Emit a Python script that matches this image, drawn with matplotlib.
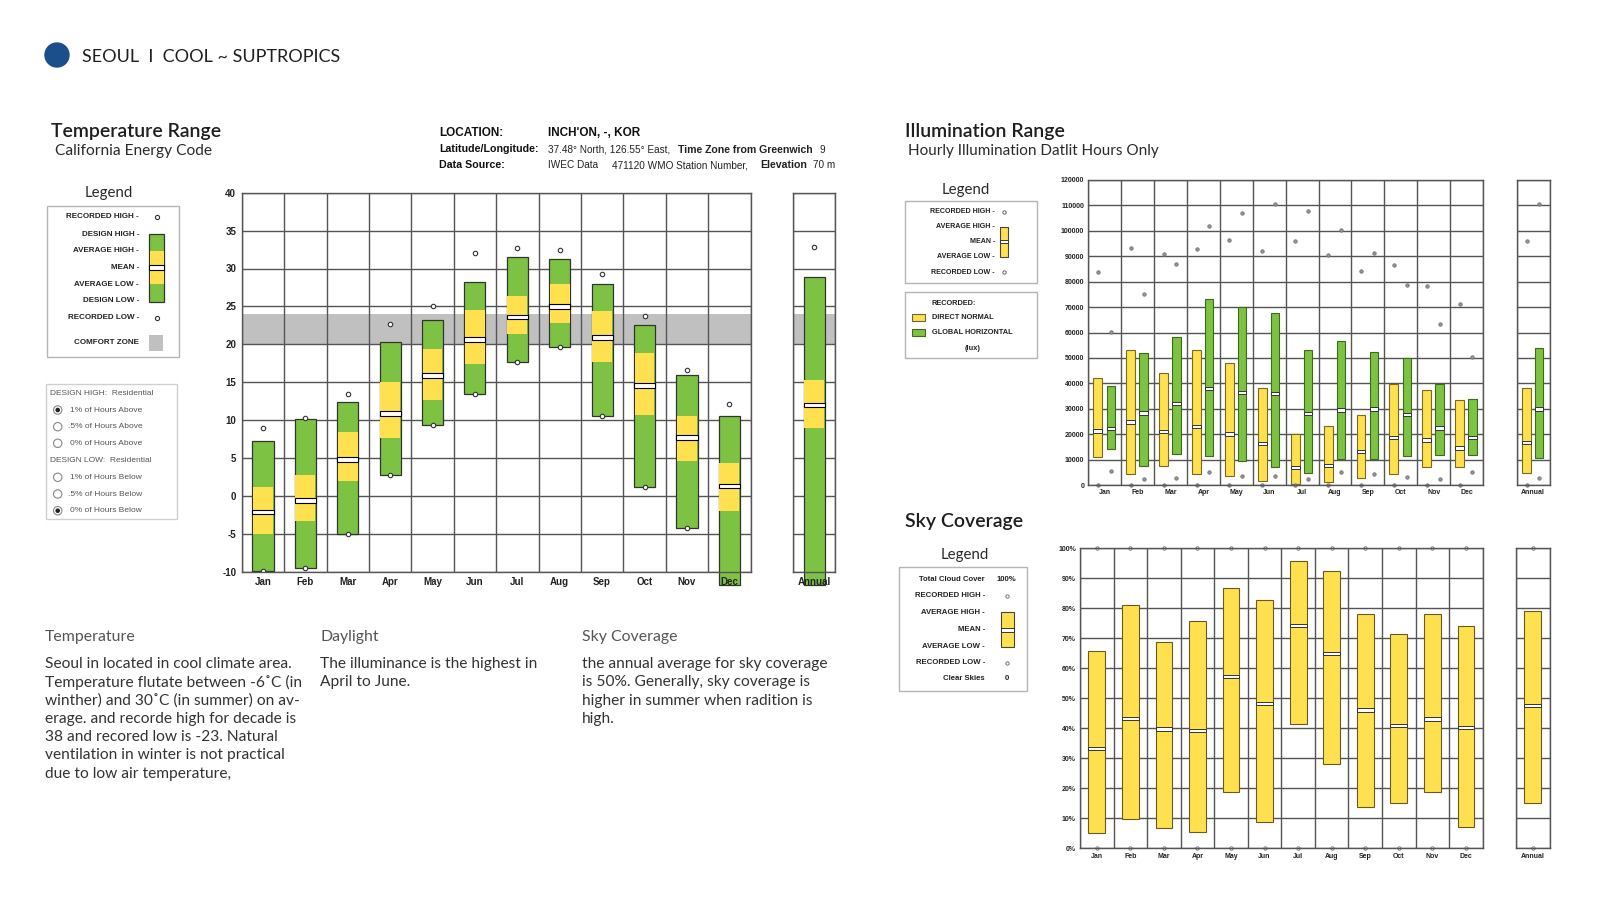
import numpy as np
import matplotlib.pyplot as plt
from matplotlib.patches import Rectangle, Circle

W, H = 1600, 900

months = ['Jan', 'Feb', 'Mar', 'Apr', 'May', 'Jun', 'Jul', 'Aug', 'Sep', 'Oct', 'Nov', 'Dec']

# temperature range (deg C), monthly + annual
temp_rec_high = [9.0, 10.3, 13.5, 22.7, 25.0, 32.0, 32.7, 32.5, 29.3, 23.7, 16.6, 12.1]
temp_design_high = [7.2, 10.1, 12.4, 20.3, 23.2, 28.2, 31.5, 31.2, 27.9, 22.5, 16.0, 10.6]
temp_avg_high = [1.2, 2.8, 8.4, 15.0, 19.4, 24.5, 26.4, 27.9, 24.4, 18.8, 10.6, 4.4]
temp_mean = [-2.1, -0.6, 4.8, 10.9, 15.9, 20.6, 23.6, 25.0, 20.9, 14.6, 7.7, 1.3]
temp_avg_low = [-5.0, -3.3, 1.9, 7.6, 12.6, 17.4, 21.4, 22.8, 17.6, 10.7, 4.6, -2.0]
temp_design_low = [-9.9, -9.5, -5.0, 2.8, 9.3, 13.5, 17.7, 19.6, 10.5, 1.2, -4.3, -11.8]
temp_rec_low = [-9.9, -9.5, -5.0, 2.8, 9.3, 13.5, 17.7, 19.6, 10.5, 1.2, -4.3, -23.0]
temp_annual = {'rec_high': 32.8, 'design_high': 28.9, 'avg_high': 15.3, 'mean': 12.0,
               'avg_low': 8.9, 'design_low': -11.8, 'rec_low': -23.0}
comfort_zone = (20, 24)
temp_yticks = [-10, -5, 0, 5, 10, 15, 20, 25, 30, 35, 40]

# illumination (lux): direct normal and global horizontal
dn_rec_high = [83800, 93200, 90700, 92700, 96300, 92200, 96000, 90500, 84100, 86700, 78200, 71100]
dn_avg_high = [42200, 53000, 44000, 53000, 48100, 38000, 19900, 23100, 27500, 39700, 37200, 33600]
dn_mean = [21200, 24800, 21000, 23000, 20100, 16400, 6800, 7700, 13100, 18600, 17700, 14600]
dn_avg_low = [11100, 4200, 7600, 4300, 3500, 1700, 500, 1000, 2900, 4200, 7200, 7000]
dn_rec_low = [0, 0, 0, 0, 0, 0, 0, 0, 0, 0, 0, 0]
gh_rec_high = [60200, 75100, 86800, 101900, 106900, 110400, 107800, 100200, 91100, 78600, 63500, 50400]
gh_avg_high = [39100, 52100, 58100, 73000, 70000, 67500, 53000, 56500, 52200, 49800, 39900, 34000]
gh_mean = [22200, 28300, 32100, 38000, 36500, 36100, 28100, 29500, 29900, 27800, 22400, 18800]
gh_avg_low = [14000, 7600, 12100, 11500, 9400, 7000, 4600, 10100, 10200, 11400, 11800, 11800]
gh_rec_low = [5500, 2200, 2600, 5100, 3500, 3500, 2500, 5000, 4200, 3300, 2400, 5200]
dn_annual = [96100, 38300, 16700, 4600, 0]      # rec high, avg high, mean, avg low, rec low
gh_annual = [110700, 53800, 29900, 10500, 2600]
illum_yticks = list(range(0, 120001, 10000))

# sky coverage (%)
sky_rec_high = [100] * 12
sky_avg_high = [65.7, 81.0, 68.6, 75.9, 86.6, 82.7, 95.6, 92.4, 78.0, 71.4, 78.2, 74.2]
sky_mean = [33.2, 43.2, 39.8, 39.2, 57.2, 48.2, 74.2, 65.0, 46.1, 40.9, 43.1, 40.3]
sky_avg_low = [5.2, 9.8, 6.9, 5.3, 18.8, 8.8, 41.4, 28.0, 13.9, 15.0, 18.6, 7.0]
sky_rec_low = [0] * 12
sky_annual = [100, 79.1, 47.6, 15.2, 0]
sky_yticks = list(range(0, 101, 10))

header = 'SEOUL  I  COOL ~ SUPTROPICS'
para_temp = ['Seoul in located in cool climate area.',
             'Temperature flutate between -6\u02daC (in',
             'winther) and 30\u02daC (in summer) on av-',
             'erage. and recorde high for decade is',
             '38 and recored low is -23. Natural',
             'ventilation in winter is not practical',
             'due to low air temperature,']
para_day = ['The illuminance is the highest in', 'April to June.']
para_sky = ['the annual average for sky coverage', 'is 50%. Generally, sky coverage is',
            'higher in summer when radition is', 'high.']

GREEN = '#7dc242'
YELLOW = '#ffe14f'
GRID = '#555555'
EDGE = '#333333'
TFONT = ['Lato', 'DejaVu Sans']
plt.rcParams['font.family'] = ['Liberation Sans', 'DejaVu Sans']


def px_axes(fig, x0, y0, x1, y1):
    return fig.add_axes([x0 / W, 1 - y1 / H, (x1 - x0) / W, (y1 - y0) / H])


def grid_axes(ax, ncols, yticks, ylabels, xlabels, fs, xpad, ypad):
    ax.set_xlim(0.5, ncols + 0.5)
    ax.set_ylim(yticks[0], yticks[-1])
    ax.set_xticks(np.arange(1, ncols + 1))
    ax.set_yticks(yticks)
    ax.set_xticklabels(xlabels, fontsize=fs, fontweight='bold', color='#222222')
    if ylabels is None:
        ax.set_yticklabels([])
    else:
        ax.set_yticklabels(ylabels, fontsize=fs, fontweight='bold', color='#222222')
    ax.tick_params(which='both', length=0)
    ax.tick_params(axis='x', pad=xpad)
    ax.tick_params(axis='y', pad=ypad)
    # grid drawn as plain lines, axis kept on top so tick labels sit over the bars
    ax.set_axisbelow(False)
    for v in yticks:
        ax.axhline(v, color=GRID, lw=1.0, zorder=1)
    for v in np.arange(0.5, ncols + 1, 1):
        ax.axvline(v, color=GRID, lw=1.0, zorder=1)
    for s in ax.spines.values():
        s.set_color(GRID)
        s.set_linewidth(1.0)


def draw_temp(ax, x, dhigh, ahigh, mean, alow, dlow, rhigh, rlow):
    x = np.atleast_1d(x)
    dhigh, ahigh, mean, alow, dlow = [np.atleast_1d(v) for v in (dhigh, ahigh, mean, alow, dlow)]
    ax.bar(x, dhigh - dlow, bottom=dlow, width=0.5, color=GREEN, edgecolor=EDGE,
           lw=0.9, zorder=2, clip_on=False)
    ax.bar(x, ahigh - alow, bottom=alow, width=0.47, color=YELLOW, lw=0, zorder=2.1)
    ax.bar(x, 0.6, bottom=mean - 0.3, width=0.5, color='white', edgecolor='black',
           lw=0.8, zorder=2.2)
    ax.plot(x, np.atleast_1d(rhigh), 'o', ms=3.2, mfc='white', mec='#333333', mew=0.8, zorder=2.3)
    ax.plot(x, np.atleast_1d(rlow), 'o', ms=3.2, mfc='white', mec='#333333', mew=0.8, zorder=2.3)


def draw_range(ax, x, ahigh, mean, alow, rhigh, rlow, color, edge, width, band,
               dot_face, dot_edge, ms):
    x = np.atleast_1d(x)
    ahigh, mean, alow = [np.atleast_1d(v).astype(float) for v in (ahigh, mean, alow)]
    ax.bar(x, ahigh - alow, bottom=alow, width=width, color=color, edgecolor=edge,
           lw=0.8, zorder=2)
    ax.bar(x, band, bottom=mean - band / 2, width=width, color='white', edgecolor='#333333',
           lw=0.7, zorder=2.1)
    ax.plot(x, np.atleast_1d(rhigh), 'o', ms=ms, mfc=dot_face, mec=dot_edge, mew=0.7,
            zorder=2.3, clip_on=False)
    ax.plot(x, np.atleast_1d(rlow), 'o', ms=ms, mfc=dot_face, mec=dot_edge, mew=0.7,
            zorder=2.3, clip_on=False)


fig = plt.figure(figsize=(16, 9), dpi=100)
fig.patch.set_facecolor('white')

bg = fig.add_axes([0, 0, 1, 1])
bg.set_xlim(0, W)
bg.set_ylim(H, 0)
bg.axis('off')

# header
bg.add_patch(Circle((57, 55), 12, color='#1b4f8c'))
bg.text(82, 56.5, header, fontsize=13, family=TFONT, color='#1e1e1e', va='center')

# ---------------- temperature ----------------
bg.text(51, 132, 'Temperature Range', fontsize=14, family=TFONT, fontweight='semibold',
        color='#1e1e1e', va='center')
bg.text(55, 151, 'California Energy Code', fontsize=11.2, family=TFONT, color='#2a2a2a', va='center')
bg.text(109, 193, 'Legend', fontsize=10.8, family=TFONT, color='#2a2a2a', ha='center', va='center')

bg.add_patch(Rectangle((46.7, 205.7), 132.3, 151, fc='white', ec='#b5b5b5', lw=1))
leg_items = ['RECORDED HIGH -', 'DESIGN HIGH -', 'AVERAGE HIGH -', 'MEAN -',
             'AVERAGE LOW -', 'DESIGN LOW -', 'RECORDED LOW -', 'COMFORT ZONE']
leg_y = [217, 234, 250.7, 267.3, 284, 301, 317.7, 342.3]
for t, y in zip(leg_items, leg_y):
    bg.text(139, y, t, fontsize=5.8, fontweight='bold', color='#222222', ha='right', va='center')
bg.add_patch(Rectangle((149.3, 234), 15, 67.7, fc=GREEN, ec=EDGE, lw=0.9))
bg.add_patch(Rectangle((149.8, 250.7), 14, 33.3, fc=YELLOW, lw=0))
bg.add_patch(Rectangle((149.3, 265.2), 15, 4.4, fc='white', ec='black', lw=0.8))
bg.plot([156.7, 156.7], [217, 317.7], 'o', ms=3, mfc='white', mec='#333333', mew=0.8, ls='none')
bg.add_patch(Rectangle((149.3, 335), 14, 15.7, fc='#c0c0c0', lw=0))

bg.add_patch(Rectangle((45.7, 384.3), 131.6, 134.7, fc='white', ec='#cfcfcf', lw=1))
radio_rows = [('DESIGN HIGH:  Residential', None, 393.3),
              ('1% of Hours Above', True, 410), ('.5% of Hours Above', False, 426.7),
              ('0% of Hours Above', False, 443.3),
              ('DESIGN LOW:  Residential', None, 460.7),
              ('1% of Hours Below', False, 477.3), ('.5% of Hours Below', False, 494),
              ('0% of Hours Below', True, 510.7)]
for t, state, y in radio_rows:
    if state is None:
        bg.text(50, y, t, fontsize=6, color='#555555', va='center')
    else:
        bg.add_patch(Circle((57.7, y), 4.2, fc='white', ec='#888888', lw=0.8))
        if state:
            bg.add_patch(Circle((57.7, y), 2.3, fc='#222222', lw=0))
        bg.text(70 if t[0] != '.' else 67.5, y, t, fontsize=6, color='#555555', va='center')

# location block
bg.text(439, 133, 'LOCATION:', fontsize=8.5, fontweight='bold', color='#111111', va='center')
bg.text(548.5, 133, "INCH'ON, -, KOR", fontsize=8.5, fontweight='bold', color='#111111', va='center')
bg.text(439, 149, 'Latitude/Longitude:', fontsize=7.7, fontweight='bold', color='#111111', va='center')
bg.text(439, 164.5, 'Data Source:', fontsize=7.7, fontweight='bold', color='#111111', va='center')
loc_row2 = [('37.48\u00b0 North, 126.55\u00b0 East,', 'normal', 7.2, 548.5),
            ('Time Zone from Greenwich', 'bold', 7.6, 678), ('9', 'normal', 7.2, 820)]
loc_row3 = [('IWEC Data', 'normal', 7.2, 548.5), ('471120 WMO Station Number,', 'normal', 7.2, 612),
            ('Elevation', 'bold', 7.6, 760), ('70 m', 'normal', 7.2, 813)]
for t, wgt, fs, x in loc_row2:
    bg.text(x, 150, t, fontsize=fs, fontweight=wgt, color='#222222', va='center')
for t, wgt, fs, x in loc_row3:
    bg.text(x, 165, t, fontsize=fs, fontweight=wgt, color='#222222', va='center')

ax_t = px_axes(fig, 241.7, 192.7, 750.5, 571.7)
grid_axes(ax_t, 12, temp_yticks, [str(v) for v in temp_yticks], months, 7, 4, 4)
ax_t.axhspan(*comfort_zone, color='#c0c0c0', lw=0, zorder=0.5)
xm = np.arange(1, 13)
draw_temp(ax_t, xm, temp_design_high, temp_avg_high, temp_mean, temp_avg_low,
          temp_design_low, temp_rec_high, temp_rec_low)

ax_ta = px_axes(fig, 793, 192.7, 835.4, 571.7)
grid_axes(ax_ta, 1, temp_yticks, None, ['Annual'], 7, 4, 4)
ax_ta.axhspan(*comfort_zone, color='#c0c0c0', lw=0, zorder=0.5)
draw_temp(ax_ta, [1], temp_annual['design_high'], temp_annual['avg_high'], temp_annual['mean'],
          temp_annual['avg_low'], temp_annual['design_low'], temp_annual['rec_high'],
          temp_annual['rec_low'])

# paragraphs
for x, head, lines in [(45, 'Temperature', para_temp), (320, 'Daylight', para_day),
                       (582, 'Sky Coverage', para_sky)]:
    bg.text(x, 637.5, head, fontsize=11.4, family=TFONT, color='#555555', va='center')
    for i, ln in enumerate(lines):
        bg.text(x, 664 + i * 18.3, ln, fontsize=11.2, family=TFONT, color='#333333', va='center')

# ---------------- illumination ----------------
bg.text(905, 132, 'Illumination Range', fontsize=14, family=TFONT, fontweight='semibold',
        color='#1e1e1e', va='center')
bg.text(908, 151, 'Hourly Illumination Datlit Hours Only', fontsize=11, family=TFONT,
        color='#2a2a2a', va='center')
bg.text(966, 190, 'Legend', fontsize=10.8, family=TFONT, color='#2a2a2a', ha='center', va='center')
bg.add_patch(Rectangle((905, 200.7), 131.7, 82.6, fc='white', ec='#b5b5b5', lw=1))
for t, y in zip(['RECORDED HIGH -', 'AVERAGE HIGH -', 'MEAN -', 'AVERAGE LOW -', 'RECORDED LOW -'],
                [211.7, 226.7, 241.7, 256.7, 272.3]):
    bg.text(995, y, t, fontsize=5.1, fontweight='bold', color='#222222', ha='right', va='center')
bg.add_patch(Rectangle((1000.2, 226.7), 7.5, 30.6, fc=YELLOW, ec='#444444', lw=0.8))
bg.add_patch(Rectangle((1000.2, 240), 7.5, 3.4, fc='white', ec='#333333', lw=0.7))
bg.plot([1003.9, 1003.9], [211.7, 272.3], 'o', ms=2.4, mfc='white', mec='#666666', mew=0.7, ls='none')

bg.add_patch(Rectangle((905, 291.7), 131.7, 66.3, fc='white', ec='#b5b5b5', lw=1))
bg.text(931.7, 303.3, 'RECORDED:', fontsize=5.3, fontweight='bold', color='#222222', va='center')
bg.add_patch(Rectangle((912, 314), 13, 6.7, fc=YELLOW, ec='#666644', lw=0.8))
bg.text(931.7, 317.3, 'DIRECT NORMAL', fontsize=5.3, fontweight='bold', color='#222222', va='center')
bg.add_patch(Rectangle((912, 329), 13, 6.7, fc=GREEN, ec='#446622', lw=0.8))
bg.text(931.7, 332.3, 'GLOBAL HORIZONTAL', fontsize=5.3, fontweight='bold', color='#222222', va='center')
bg.text(973, 348.3, '(lux)', fontsize=5.3, fontweight='bold', color='#222222', ha='center', va='center')

ax_i = px_axes(fig, 1088.3, 180, 1483, 485)
grid_axes(ax_i, 12, illum_yticks, [str(v) for v in illum_yticks], months, 5, 3, 3)
draw_range(ax_i, xm - 0.21, dn_avg_high, dn_mean, dn_avg_low, dn_rec_high, dn_rec_low,
           YELLOW, '#7a6a20', 0.27, 1300, '#9a9a9a', '#777777', 2.4)
draw_range(ax_i, xm + 0.18, gh_avg_high, gh_mean, gh_avg_low, gh_rec_high, gh_rec_low,
           GREEN, '#3d6b1e', 0.25, 1300, '#9a9a9a', '#777777', 2.4)

ax_ia = px_axes(fig, 1516.7, 180, 1549.6, 485)
grid_axes(ax_ia, 1, illum_yticks, None, ['Annual'], 5, 3, 3)
draw_range(ax_ia, [1 - 0.19], dn_annual[1], dn_annual[2], dn_annual[3], dn_annual[0], dn_annual[4],
           YELLOW, '#7a6a20', 0.27, 1300, '#9a9a9a', '#777777', 2.4)
draw_range(ax_ia, [1 + 0.18], gh_annual[1], gh_annual[2], gh_annual[3], gh_annual[0], gh_annual[4],
           GREEN, '#3d6b1e', 0.25, 1300, '#9a9a9a', '#777777', 2.4)

# ---------------- sky coverage ----------------
bg.text(905, 522, 'Sky Coverage', fontsize=14, family=TFONT, fontweight='semibold',
        color='#1e1e1e', va='center')
bg.text(964.3, 555, 'Legend', fontsize=10.8, family=TFONT, color='#2a2a2a', ha='center', va='center')
bg.add_patch(Rectangle((899, 567), 128, 123.5, fc='white', ec='#b5b5b5', lw=1))
for t, y in zip(['Total Cloud Cover', 'RECORDED HIGH -', 'AVERAGE HIGH -', 'MEAN -', 'AVERAGE LOW -',
                 'RECORDED LOW -', 'Clear Skies'],
                [579.5, 595.5, 612.5, 629.5, 646, 663, 678.5]):
    bg.text(985, y, t, fontsize=5.6, fontweight='bold', color='#222222', ha='right', va='center')
bg.text(996.7, 579.5, '100%', fontsize=5.6, fontweight='bold', color='#222222', va='center')
bg.text(1006.7, 678.5, '0', fontsize=5.6, fontweight='bold', color='#222222', ha='center', va='center')
bg.add_patch(Rectangle((1000.7, 612), 13.3, 34.7, fc=YELLOW, ec='#444444', lw=0.8))
bg.add_patch(Rectangle((1000.7, 628), 13.3, 3.6, fc='white', ec='#333333', lw=0.7))
bg.plot([1006.7, 1006.7], [595.5, 663], 'o', ms=2.4, mfc='white', mec='#777777', mew=0.7, ls='none')

ax_s = px_axes(fig, 1080, 548.3, 1482.7, 848.3)
grid_axes(ax_s, 12, sky_yticks, ['%d%%' % v for v in sky_yticks], months, 5, 3.5, 3)
draw_range(ax_s, xm, sky_avg_high, sky_mean, sky_avg_low, sky_rec_high, sky_rec_low,
           YELLOW, '#6a5a20', 0.5, 1.1, 'white', '#777777', 2.4)

ax_sa = px_axes(fig, 1516, 548.3, 1549.5, 848.3)
grid_axes(ax_sa, 1, sky_yticks, None, ['Annual'], 5, 3.5, 3)
draw_range(ax_sa, [1], sky_annual[1], sky_annual[2], sky_annual[3], sky_annual[0], sky_annual[4],
           YELLOW, '#6a5a20', 0.5, 1.1, 'white', '#777777', 2.4)

fig.savefig('out.png', dpi=100, facecolor='white')
